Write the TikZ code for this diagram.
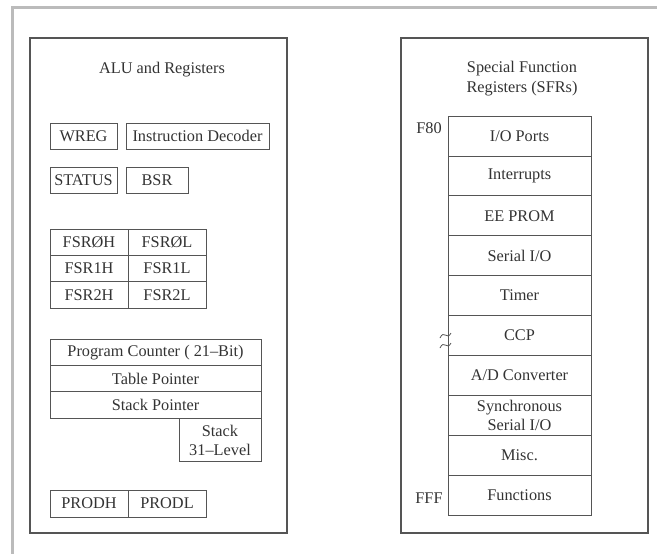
\documentclass[tikz,border=0pt]{standalone}
\usepackage{fontspec}
\setmainfont{Liberation Serif}
\usetikzlibrary{positioning}
\newcommand{\boxfont}{\fontsize{16.3}{19}\selectfont}
\definecolor{inkgray}{HTML}{333333}
\definecolor{edgegray}{HTML}{555555}
\definecolor{framegray}{HTML}{BBBBBB}
\tikzset{
  panel/.style  ={draw=edgegray, line width=1.1pt},
  regbox/.style ={rectangle, draw=edgegray, line width=0.9pt, inner sep=0pt,
                  font=\boxfont, text=inkgray, align=center},
  sfrbox/.style ={regbox, minimum width=143pt, minimum height=39.9pt},
  title/.style  ={font=\boxfont, text=inkgray, align=center},
  addr/.style   ={font=\boxfont, text=inkgray, inner sep=0pt},
  brk/.style    ={draw=edgegray, line width=0.8pt},
}
\begin{document}
\begin{tikzpicture}[x=1pt,y=-1pt]
\useasboundingbox (0,0) rectangle (657,554);
% outer frame
\draw[framegray, line width=3pt] (12,554) -- (12,7) -- (657,7);

% ALU and registers
\draw[panel] (30,38) rectangle (287,533);
\node[title] (alut) at (162,70) {ALU and Registers};
\node[regbox, minimum width=67pt, minimum height=26pt]  (wreg)   at (83.5,136) {WREG};
\node[regbox, minimum width=143pt, minimum height=26pt] (decode) at (197.5,136) {Instruction Decoder};
\node[regbox, minimum width=67pt, minimum height=26pt]  (status) at (83.5,180) {STATUS};
\node[regbox, minimum width=62pt, minimum height=26pt]  (bsr)    at (157,180) {BSR};
\foreach \n [count=\i from 0] in {0,1,2} {
  \node[regbox, minimum width=78pt, minimum height=26.3pt] (fsr\n h) at (89,{242.2+26.3*\i})  {FSR\ifnum\n=0 Ø\else\n\fi H};
  \node[regbox, minimum width=78pt, minimum height=26.3pt] (fsr\n l) at (167,{242.2+26.3*\i}) {FSR\ifnum\n=0 Ø\else\n\fi L};
}
\node[regbox, minimum width=211pt, minimum height=26.3pt] (pc)    at (155.5,352.2) {Program Counter ( 21--Bit)};
\node[regbox, minimum width=211pt, minimum height=26.3pt] (tblp)  at (155.5,378.5) {Table Pointer};
\node[regbox, minimum width=211pt, minimum height=26.3pt] (stkp)  at (155.5,404.8) {Stack Pointer};
\node[regbox, minimum width=82pt, minimum height=43pt, anchor=north east] (stack) at (stkp.south east) {Stack\\31--Level};
\node[regbox, minimum width=78pt, minimum height=27pt] (prodh) at (89,503.5)  {PRODH};
\node[regbox, minimum width=78pt, minimum height=27pt] (prodl) at (167,503.5) {PRODL};

% special function registers
\draw[panel] (401,38) rectangle (648,533);
\node[title] (sfrt) at (522,79) {Special Function\\[1pt]Registers (SFRs)};
\foreach \lbl [count=\i from 0] in {I/O Ports, Interrupts, EE PROM, Serial I/O, Timer,
    CCP, A/D Converter, {Synchronous\\Serial I/O}, Misc., Functions} {
  \node[sfrbox] (sfr\i) at (519.5,{136+39.9*\i}) {\lbl};
}
\node[addr] (f80) at (429,128) {F80};
\node[addr] (fff) at (429,498) {FFF};
% break mark
\draw[brk] (440,338) .. controls (444,329) and (447,341) .. (451,333);
\draw[brk] (440,348) .. controls (444,339) and (447,351) .. (451,343);
\end{tikzpicture}
\end{document}
